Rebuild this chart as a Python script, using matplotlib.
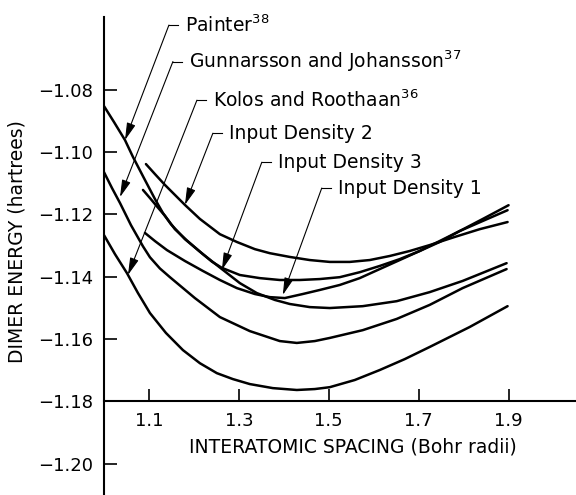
import numpy as np
import matplotlib
matplotlib.use('Agg')
import matplotlib.pyplot as plt

# curves (interatomic spacing in bohr, energy in hartrees)
kolos_x = [1.00, 1.0244, 1.0511, 1.0756, 1.1022, 1.1378, 1.1756, 1.2133, 1.2511, 1.2867, 1.3244,
           1.3756, 1.4289, 1.4689, 1.5022, 1.5578, 1.6133, 1.6689, 1.7244, 1.8133, 1.8978]
kolos_y = [-1.1267, -1.1328, -1.1389, -1.1453, -1.1517, -1.1581, -1.1636, -1.1678, -1.1710, -1.1729, -1.1745,
           -1.1758, -1.1764, -1.1761, -1.1755, -1.1732, -1.1700, -1.1665, -1.1626, -1.1562, -1.1495]

gunn_x = [1.00, 1.0178, 1.0356, 1.06, 1.0867, 1.1022, 1.1244, 1.1467, 1.2022, 1.2578, 1.3244,
          1.3911, 1.4289, 1.4689, 1.5022, 1.5756, 1.6511, 1.7244, 1.7978, 1.8956]
gunn_y = [-1.1065, -1.1116, -1.1164, -1.1235, -1.1303, -1.1338, -1.1374, -1.1402, -1.1469, -1.1530, -1.1575,
          -1.1607, -1.1613, -1.1607, -1.1597, -1.1572, -1.1536, -1.1491, -1.1437, -1.1376]

painter_x = [1.00, 1.0222, 1.0467, 1.0644, 1.0889, 1.1133, 1.1311, 1.1489, 1.18, 1.22, 1.2622, 1.3022,
             1.34, 1.38, 1.4133, 1.4578, 1.5022, 1.5756, 1.6511, 1.7244, 1.7978, 1.8956]
painter_y = [-1.0853, -1.0904, -1.0962, -1.1016, -1.1084, -1.1151, -1.1196, -1.1232, -1.1280, -1.1328, -1.1376, -1.1421,
             -1.1453, -1.1475, -1.1488, -1.1498, -1.1501, -1.1495, -1.1479, -1.1450, -1.1414, -1.1357]

id1_x = [1.0911, 1.1133, 1.14, 1.18, 1.22, 1.2578, 1.2956, 1.3356, 1.3689, 1.4022, 1.4422,
         1.48, 1.5244, 1.5689, 1.6133, 1.6578, 1.7022, 1.7467, 1.7911, 1.8467, 1.8978]
id1_y = [-1.1260, -1.1286, -1.1315, -1.1350, -1.1382, -1.1411, -1.1437, -1.1456, -1.1466, -1.1469, -1.1456,
         -1.1443, -1.1427, -1.1405, -1.1376, -1.1347, -1.1318, -1.1286, -1.1254, -1.1219, -1.1187]

id2_x = [1.0933, 1.1133, 1.1356, 1.1578, 1.18, 1.2133, 1.2578, 1.2956, 1.3356, 1.3689, 1.4133,
         1.4578, 1.5022, 1.5467, 1.5911, 1.6356, 1.68, 1.7244, 1.78, 1.8356, 1.8978]
id2_y = [-1.1039, -1.1071, -1.1106, -1.1138, -1.1170, -1.1215, -1.1264, -1.1289, -1.1312, -1.1325, -1.1337,
         -1.1347, -1.1353, -1.1353, -1.1347, -1.1334, -1.1318, -1.1299, -1.1273, -1.1248, -1.1225]

id3_x = [1.0867, 1.1022, 1.1178, 1.1356, 1.1578, 1.1844, 1.2133, 1.24, 1.2622, 1.3022, 1.3467, 1.3911,
         1.4356, 1.48, 1.5244, 1.5689, 1.6133, 1.6578, 1.7022, 1.7467, 1.7911, 1.8467, 1.90]
id3_y = [-1.1122, -1.1148, -1.1175, -1.1205, -1.1248, -1.1284, -1.1320, -1.1352, -1.1372, -1.1395, -1.1405, -1.1411,
         -1.1411, -1.1408, -1.1402, -1.1386, -1.1366, -1.1344, -1.1318, -1.1289, -1.1254, -1.1212, -1.1171]

xticks = [1.1, 1.3, 1.5, 1.7, 1.9]
yticks = [-1.08, -1.10, -1.12, -1.14, -1.16, -1.18, -1.20]

# label text, start of leader dash, arrow tip
notes = [
    ("Painter$^{38}$", (1.1444, -1.0593), (1.0467, -1.0962)),
    ("Gunnarsson and Johansson$^{37}$", (1.1533, -1.0710), (1.0356, -1.1145)),
    ("Kolos and Roothaan$^{36}$", (1.2067, -1.0834), (1.0533, -1.1395)),
    ("Input Density 2", (1.2422, -1.0940), (1.1800, -1.1170)),
    ("Input Density 3", (1.3511, -1.1033), (1.2622, -1.1379)),
    ("Input Density 1", (1.4844, -1.1116), (1.3978, -1.1459)),
]

plt.rcParams['font.family'] = ['DejaVu Sans']
plt.rcParams['mathtext.fontset'] = 'dejavusans'
fig = plt.figure(figsize=(5.76, 4.95), dpi=100)
ax = fig.add_axes([104/576, 0.0, 472/576, 478/495])

for xs, ys in [(kolos_x, kolos_y), (gunn_x, gunn_y), (painter_x, painter_y),
               (id1_x, id1_y), (id2_x, id2_y), (id3_x, id3_y)]:
    ax.plot(xs, ys, color='k', lw=1.8, solid_capstyle='round', solid_joinstyle='round')

for txt, (dx, dy), tip in notes:
    ax.plot([dx, dx + 0.02], [dy, dy], color='k', lw=0.8, clip_on=False)
    ax.annotate('', xy=tip, xytext=(dx, dy), annotation_clip=False,
                arrowprops=dict(arrowstyle='-|>,head_length=0.7,head_width=0.18', lw=0.8,
                                color='k', mutation_scale=15, shrinkA=0, shrinkB=0))
    ax.text(dx + 0.036, dy, txt, fontsize=13.5, va='center', ha='left')

ax.set_xlim(1.0, 2.05)
ax.set_ylim(-1.2101, -1.0567)
ax.spines['top'].set_visible(False)
ax.spines['right'].set_visible(False)
ax.spines['bottom'].set_position(('data', -1.18))
ax.spines['left'].set_linewidth(1.5)
ax.spines['bottom'].set_linewidth(1.5)

ax.set_xticks(xticks)
ax.set_xticklabels(['%.1f' % v for v in xticks])
ax.set_yticks(yticks)
ax.set_yticklabels(['\u2212%.2f' % abs(v) for v in yticks])
ax.tick_params(direction='in', length=9, width=1.2, labelsize=13, pad=8)

ax.set_xlabel('INTERATOMIC SPACING (Bohr radii)', fontsize=13.5, va='center')
ax.xaxis.set_label_coords(0.5275, 0.100)
ax.set_ylabel('DIMER ENERGY (hartrees)', fontsize=13.5, va='center')
ax.yaxis.set_label_coords(-0.184, 0.531)

fig.savefig('out.png', dpi=100)
